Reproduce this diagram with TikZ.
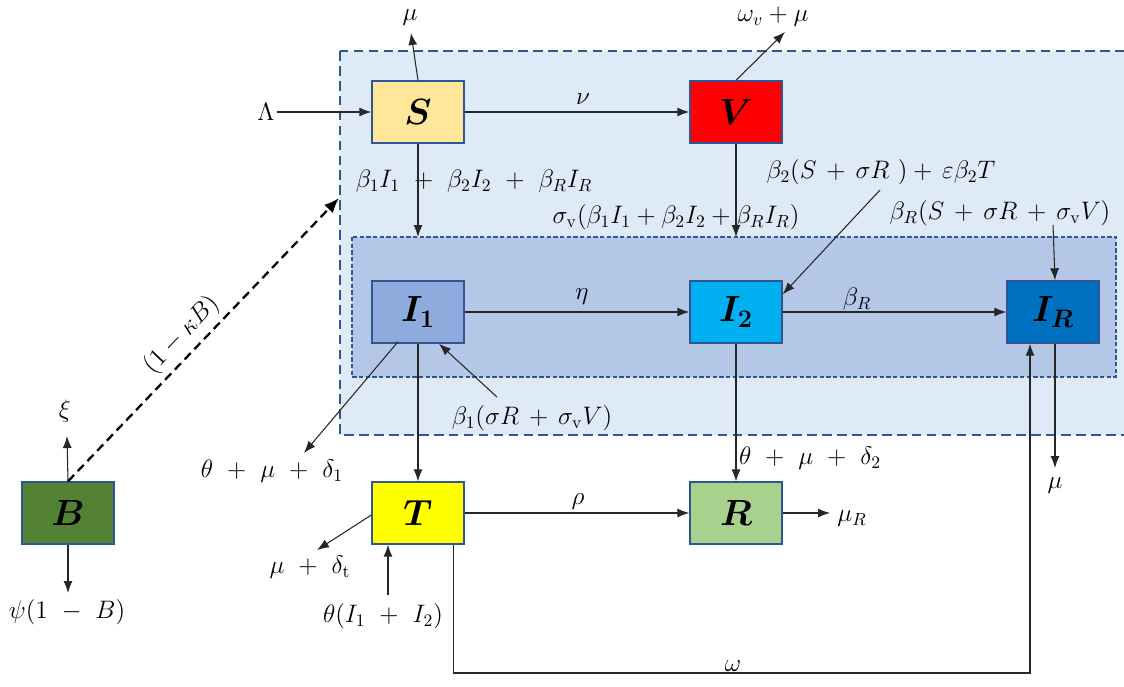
\documentclass[tikz,border=0pt]{standalone}
\usepackage{amsmath,bm}
\usetikzlibrary{arrows.meta,calc}
\definecolor{outerfill}{HTML}{DEEAF6}
\definecolor{innerfill}{HTML}{B4C7E7}
\definecolor{boxline}{HTML}{2F5597}
\definecolor{sfill}{HTML}{FFE699}
\definecolor{vfill}{HTML}{FF0000}
\definecolor{ionefill}{HTML}{8FAADC}
\definecolor{itwofill}{HTML}{00B0F0}
\definecolor{irfill}{HTML}{0070C0}
\definecolor{tfill}{HTML}{FFFF00}
\definecolor{rfill}{HTML}{A9D18E}
\definecolor{bfill}{HTML}{548235}
\begin{document}
\begin{tikzpicture}[x=0.02cm,y=-0.02cm,
  comp/.style={draw=boxline,line width=0.8pt,minimum width=1.84cm,minimum height=1.24cm,inner sep=0pt,font=\fontsize{20}{22}\selectfont},
  lab/.style={inner sep=1pt,font=\fontsize{14.5}{16}\selectfont},
  arr/.style={draw=black!85,line width=0.6pt,-{Latex[length=2.4mm,width=1.8mm]}}]
\clip (0,0) rectangle (1124,686);
\fill[white] (0,0) rectangle (1124,686);
% compartments regions
\draw[fill=outerfill,draw=boxline,line width=1.3pt,dash pattern=on 5.5pt off 3pt] (340,51) rectangle (1140,435);
\draw[fill=innerfill,draw=boxline,line width=0.7pt,dash pattern=on 2.5pt off 1.3pt] (352,237) rectangle (1116,377);
% boxes
\node[comp,fill=sfill] (S) at (418,112) {$\bm{S}$};
\node[comp,fill=vfill] (V) at (736,112) {$\bm{V}$};
\node[comp,fill=ionefill] (I1) at (418,312) {$\bm{I_1}$};
\node[comp,fill=itwofill] (I2) at (736,312) {$\bm{I_2}$};
\node[comp,fill=irfill] (IR) at (1053,312) {$\bm{I_R}$};
\node[comp,fill=tfill] (T) at (418,513) {$\bm{T}$};
\node[comp,fill=rfill] (R) at (736,513) {$\bm{R}$};
\node[comp,fill=bfill] (B) at (68,513) {$\bm{B}$};
% labels
\node[lab] (Lam) at (266,112) {$\Lambda$};
\node[lab] (muS) at (410,18) {$\mu$};
\node[lab] (muV) at (773,17) {$\omega_v + \mu$};
\node[lab] (nu) at (583,99) {$\nu$};
\node[lab] (lSI) at (474,181) {$\beta_1 I_1\ +\ \beta_2 I_2\ +\ \beta_R I_R$};
\node[lab] (lVI) at (676,217) {$\sigma_{\mathrm{v}}(\beta_1 I_1 + \beta_2 I_2 + \beta_R I_R)$};
\node[lab] (lb2) at (881,172) {$\beta_2(S\, +\, \sigma R\ )+\, \varepsilon\beta_2 T$};
\node[lab] (lbR) at (1000,213) {$\beta_R(S\, +\, \sigma R\, +\, \sigma_{\mathrm{v}} V)$};
\node[lab] (eta) at (582,297) {$\eta$};
\node[lab] (bR) at (857,299) {$\beta_R$};
\node[lab] (lb1) at (532,418) {$\beta_1(\sigma R\, +\, \sigma_{\mathrm{v}} V)$};
\node[lab] (d1) at (272,471) {$\theta\ +\ \mu\ +\ \delta_1$};
\node[lab] (d2) at (810,458) {$\theta\ +\ \mu\ +\ \delta_2$};
\node[lab] (muIR) at (1055,486) {$\mu$};
\node[lab] (rho) at (578,502) {$\rho$};
\node[lab] (muR) at (852,519) {$\mu_R$};
\node[lab] (dt) at (310,567) {$\mu\ +\ \delta_{\mathrm{t}}$};
\node[lab] (thI) at (383,616) {$\theta(I_1\ +\ I_2)$};
\node[lab] (om) at (733,666) {$\omega$};
\node[lab] (xi) at (65,411) {$\xi$};
\node[lab] (psi) at (67,612) {$\psi(1\ -\ B)$};
% free ends
\coordinate (inTopA) at (418,237);
\coordinate (inTopB) at (736,237);
\coordinate (muSend) at (411,33);
\coordinate (muVend) at (785,32);
\coordinate (b2start) at (880,190);
\coordinate (bRstart) at (1053,225);
\coordinate (b1start) at (497,397);
\coordinate (d1end) at (304,453);
\coordinate (muIRend) at (1055,468);
\coordinate (muRend) at (830,513);
\coordinate (dtend) at (317,550);
\coordinate (thIstart) at (388,595);
\coordinate (xiend) at (67,436);
\coordinate (psiend) at (68,593);
\coordinate (omcorner) at (700,673);
\coordinate (kBend) at (339,198);
% connectors
\draw[arr] (Lam.east) -- (S.west);
\draw[arr] (S.north) -- (muSend);
\draw[arr] (S) -- (V);
\draw[arr] (S) -- (inTopA);
\draw[arr] (V) -- (inTopB);
\draw[arr] (V.north) -- (muVend);
\draw[arr] (b2start) -- ($(I2.north east)+(0,14)$);
\draw[arr] (bRstart) -- ($(IR.north)+(2,0)$);
\draw[arr] (I1) -- (I2);
\draw[arr] (I2) -- (IR);
\draw[arr] ($(I1.south)+(-20,-2)$) -- (d1end);
\draw[arr] (b1start) -- ($(I1.south)+(21,0)$);
\draw[arr] (I1) -- (T);
\draw[arr] (I2) -- (R);
\draw[arr] ($(IR.south)+(2,0)$) -- (muIRend);
\draw[arr] (T) -- (R);
\draw[arr] (R) -- (muRend);
\draw[arr] ($(T.west)+(0,2)$) -- (dtend);
\draw[arr] (thIstart) -- ($(T.south)+(-30,0)$);
\draw[arr] ($(T.south east)+(-11,0)$) |- (omcorner) -| ($(IR.south)+(-23,0)$);
\draw[arr] (B.north) -- (xiend);
\draw[arr] (B.south) -- (psiend);
\draw[black,line width=1.3pt,dash pattern=on 5pt off 3pt,-{Latex[length=3mm,width=2.4mm]}] (B.north) -- node[lab,sloped,above=2pt,pos=0.47] (kB) {$(1-\kappa B)$} (kBend);
\end{tikzpicture}
\end{document}
